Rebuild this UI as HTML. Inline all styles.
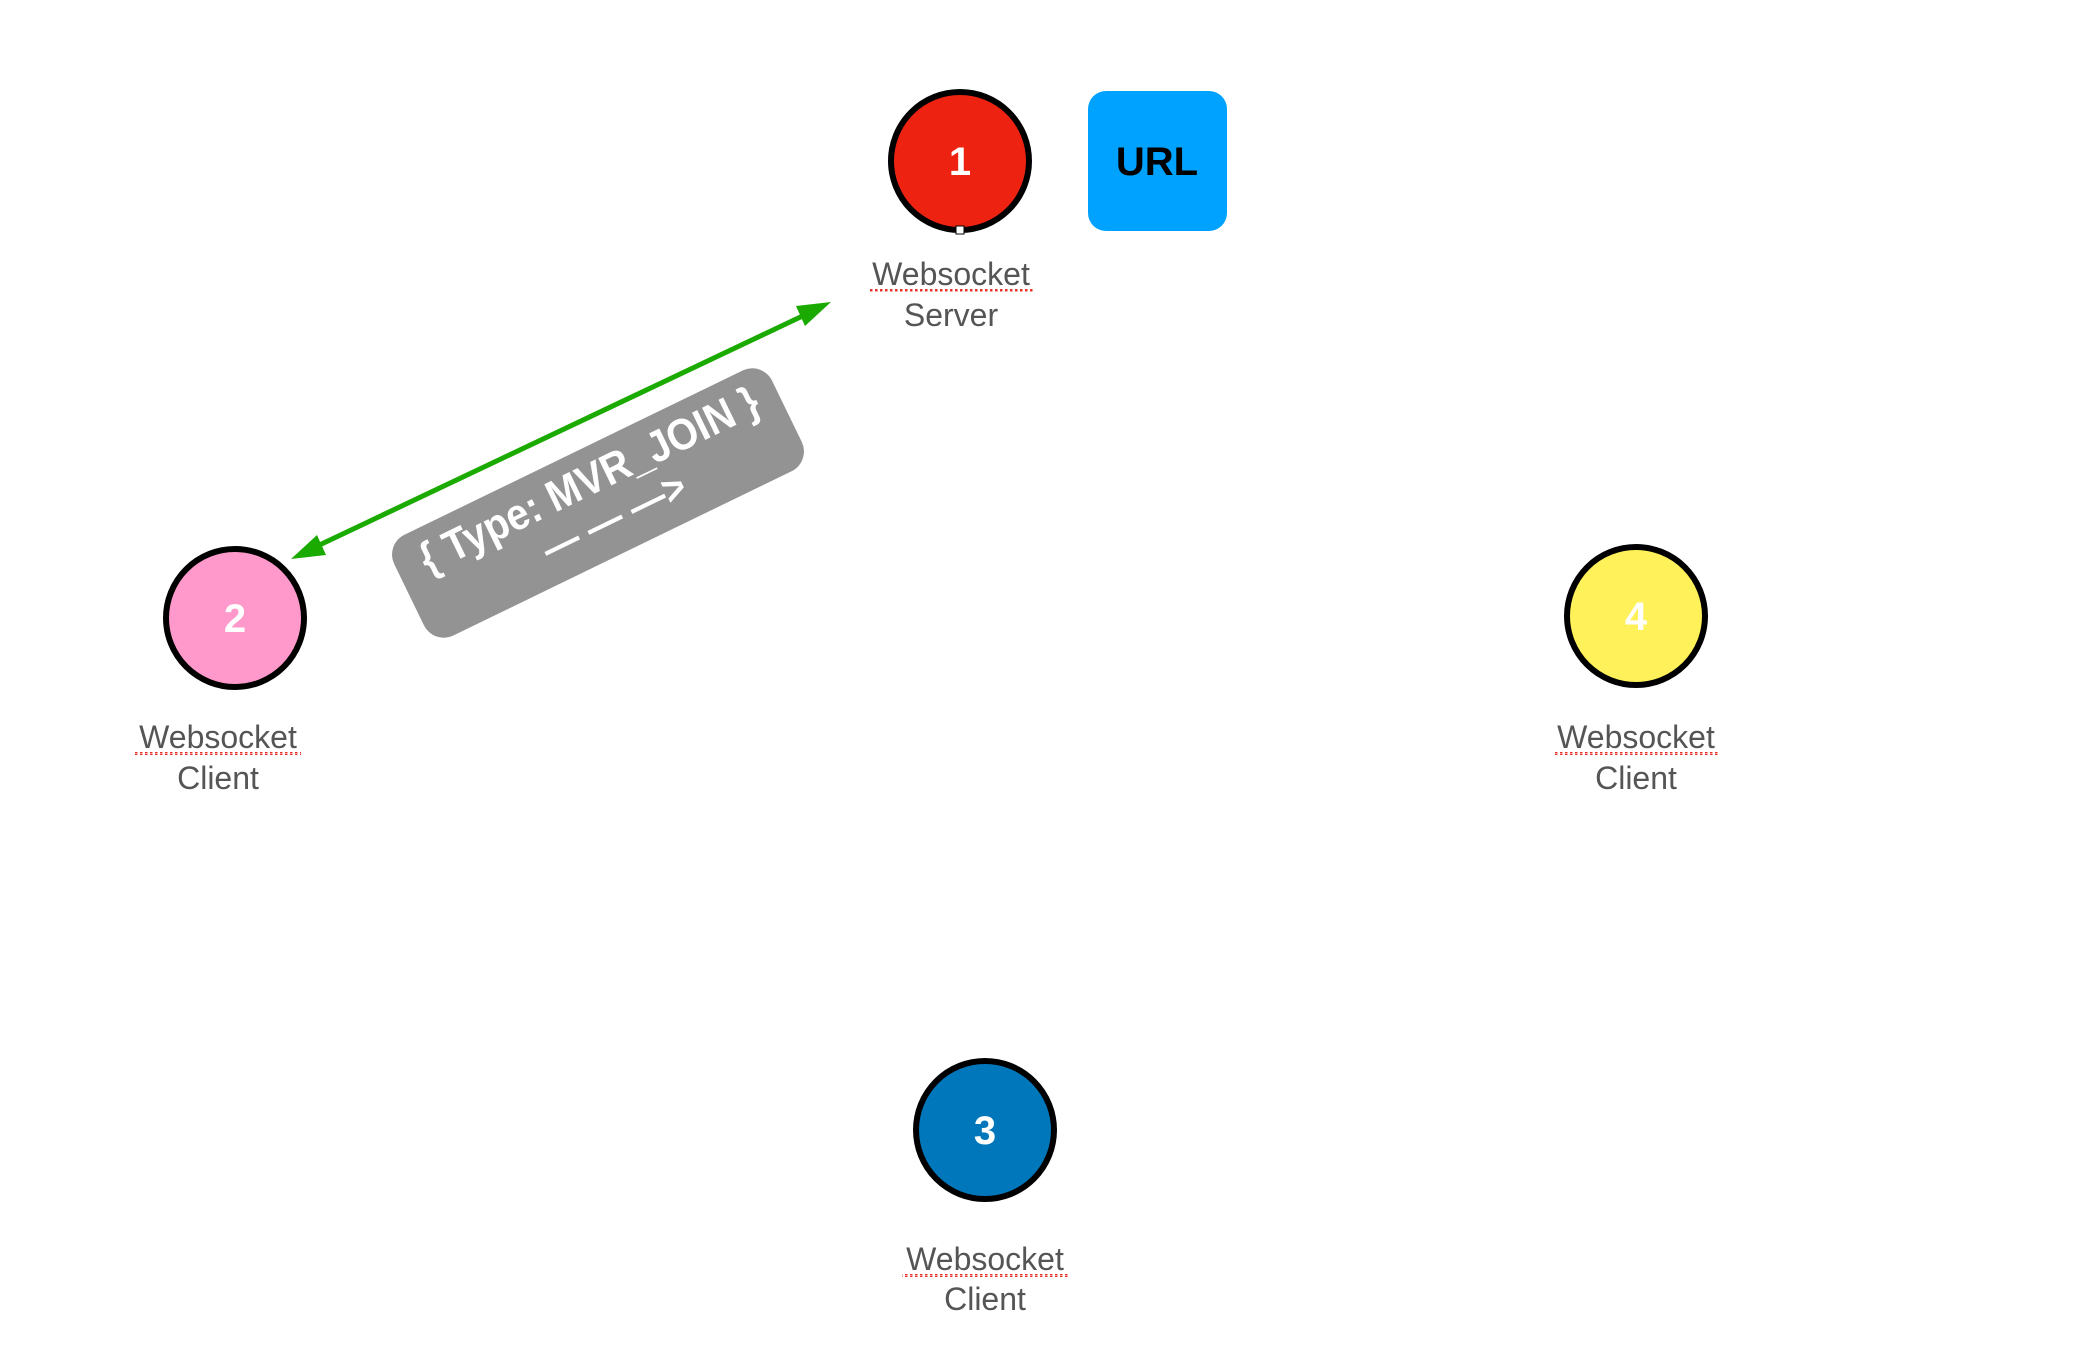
<!DOCTYPE html>
<html><head><meta charset="utf-8"><style>
html,body{margin:0;padding:0;background:#fff;}
body{width:2083px;height:1362px;position:relative;overflow:hidden;font-family:"Liberation Sans",Arial,sans-serif;}
</style></head><body>
<svg width="2083" height="1362" viewBox="0 0 2083 1362" xmlns="http://www.w3.org/2000/svg" style="position:absolute;left:0;top:0">
<defs>
<pattern id="dots" width="5" height="3" patternUnits="userSpaceOnUse"><rect width="2.5" height="2.5" fill="#e8332a"/></pattern>
</defs>
<g transform="translate(-5,-2)">
<line x1="316" y1="551" x2="816" y2="314" stroke="#1aaa00" stroke-width="5"/>
<polygon points="296,561 322,537 331,557" fill="#1aaa00"/>
<polygon points="836,304 810,328 801,308" fill="#1aaa00"/>
<g transform="translate(603,505) rotate(-25.9)">
<rect x="-210" y="-56" width="420" height="112" rx="22" fill="#939393"/>
<text x="2" y="-10" text-anchor="middle" fill="#fff" font-size="44" font-weight="bold" textLength="372" lengthAdjust="spacingAndGlyphs" font-family="Liberation Sans, sans-serif">{ Type: MVR_JOIN }</text>
<text x="8" y="34" text-anchor="middle" fill="#fff" font-size="42" font-weight="bold" textLength="155" lengthAdjust="spacingAndGlyphs" font-family="Liberation Sans, sans-serif">— — —&gt;</text>
</g>
<circle cx="965" cy="163" r="69" fill="#ee2211" stroke="#000" stroke-width="6"/>
<text x="965" y="177" text-anchor="middle" fill="#fff" font-size="40" font-weight="bold">1</text>
<rect x="961" y="228" width="8" height="8" fill="#fff" stroke="#000" stroke-width="1"/>
<circle cx="240" cy="620" r="69" fill="#ff99cc" stroke="#000" stroke-width="6"/>
<text x="240" y="634" text-anchor="middle" fill="#fff" font-size="40" font-weight="bold">2</text>
<circle cx="1641" cy="618" r="69" fill="#fff159" stroke="#000" stroke-width="6"/>
<text x="1641" y="632" text-anchor="middle" fill="#fff" font-size="40" font-weight="bold">4</text>
<circle cx="990" cy="1132" r="69" fill="#0077bb" stroke="#000" stroke-width="6"/>
<text x="990" y="1146" text-anchor="middle" fill="#fff" font-size="40" font-weight="bold">3</text>
<rect x="1093" y="93" width="139" height="140" rx="18" fill="#00a2ff"/>
<text x="1162" y="177" text-anchor="middle" fill="#000" font-size="40" font-weight="bold">URL</text>
<g fill="#555" font-size="32" text-anchor="middle">
<text x="956" y="287">Websocket</text><text x="956" y="328">Server</text>
<rect x="873" y="291" width="166" height="3" fill="url(#dots)"/>
<text x="223" y="750">Websocket</text><text x="223" y="791">Client</text>
<rect x="140" y="754" width="166" height="3" fill="url(#dots)"/>
<text x="1641" y="750">Websocket</text><text x="1641" y="791">Client</text>
<rect x="1558" y="754" width="166" height="3" fill="url(#dots)"/>
<text x="990" y="1272">Websocket</text><text x="990" y="1312">Client</text>
<rect x="907" y="1276" width="166" height="3" fill="url(#dots)"/>
</g>
</g>
</svg>
</body></html>
